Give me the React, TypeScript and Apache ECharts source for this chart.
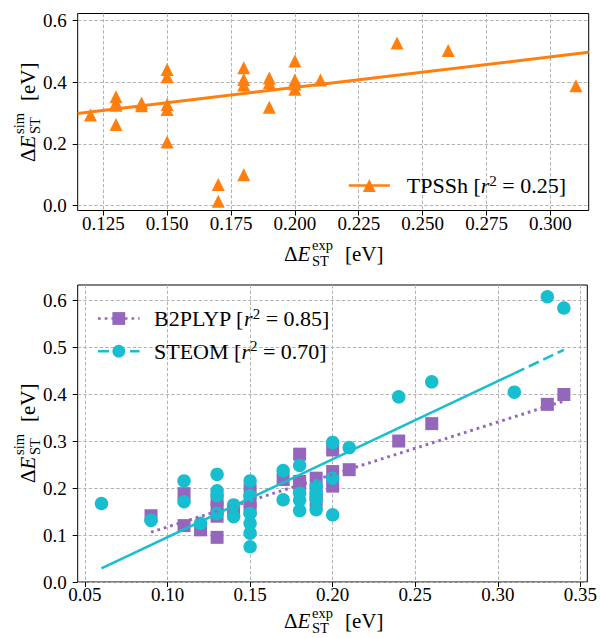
import React, { useEffect, useRef } from "react";
import * as echarts from "echarts";

const FONT = "'Liberation Serif', 'Times New Roman', serif";
const ORANGE = "#ff7f0e";
const PURPLE = "#9467bd";
const CYAN = "#17becf";

// ---- Top panel: TPSSh ----
const tpsshX = [0.12, 0.13, 0.13, 0.13, 0.13, 0.14, 0.14, 0.15, 0.15, 0.15, 0.15, 0.15, 0.17, 0.17, 0.18, 0.18, 0.18, 0.18, 0.19, 0.19, 0.19, 0.2, 0.2, 0.2, 0.2, 0.21, 0.24, 0.26, 0.31];
const tpsshY = [0.294, 0.353, 0.333, 0.325, 0.263, 0.333, 0.324, 0.441, 0.418, 0.328, 0.312, 0.206, 0.068, 0.014, 0.447, 0.409, 0.391, 0.1, 0.414, 0.398, 0.319, 0.469, 0.407, 0.394, 0.377, 0.407, 0.527, 0.503, 0.389];
const tpsshFitX = [0.115, 0.315];
const tpsshFitY = [0.299, 0.497];

// ---- Bottom panel: B2PLYP ----
const b2plypX = [0.09, 0.11, 0.11, 0.12, 0.13, 0.13, 0.13, 0.13, 0.14, 0.15, 0.15, 0.15, 0.17, 0.18, 0.18, 0.18, 0.19, 0.19, 0.19, 0.2, 0.2, 0.2, 0.21, 0.24, 0.26, 0.33, 0.34];
const b2plypY = [0.141, 0.188, 0.12, 0.111, 0.175, 0.158, 0.14, 0.095, 0.153, 0.195, 0.172, 0.155, 0.218, 0.272, 0.214, 0.205, 0.221, 0.19, 0.172, 0.281, 0.235, 0.204, 0.239, 0.3, 0.337, 0.378, 0.399];
const b2plypFitX = [0.09, 0.34];
const b2plypFitY = [0.106, 0.385];

// ---- Bottom panel: STEOM ----
const steomX = [0.06, 0.09, 0.11, 0.11, 0.12, 0.13, 0.13, 0.13, 0.13, 0.14, 0.14, 0.15, 0.15, 0.15, 0.15, 0.15, 0.15, 0.17, 0.17, 0.18, 0.18, 0.18, 0.18, 0.19, 0.19, 0.19, 0.19, 0.2, 0.2, 0.2, 0.21, 0.24, 0.26, 0.31, 0.33, 0.34];
const steomY = [0.167, 0.131, 0.215, 0.171, 0.125, 0.229, 0.194, 0.184, 0.146, 0.164, 0.139, 0.215, 0.184, 0.146, 0.125, 0.104, 0.075, 0.237, 0.175, 0.248, 0.189, 0.174, 0.152, 0.205, 0.19, 0.176, 0.154, 0.297, 0.221, 0.143, 0.286, 0.394, 0.426, 0.404, 0.607, 0.583];
const steomFitSolidX = [0.06, 0.31];
const steomFitSolidY = [0.029, 0.444];
const steomFitDashX = [0.31, 0.34];
const steomFitDashY = [0.444, 0.494];

// ---- Ticks ----
const topXTicks = [0.125, 0.15, 0.175, 0.2, 0.225, 0.25, 0.275, 0.3];
const topYTicks = [0, 0.2, 0.4, 0.6];
const botXTicks = [0.05, 0.1, 0.15, 0.2, 0.25, 0.3, 0.35];
const botYTicks = [0, 0.1, 0.2, 0.3, 0.4, 0.5, 0.6];

const pairs = (xs: number[], ys: number[]) => xs.map((x, i) => [x, ys[i]]);

function axis(ticks: number[], digits: number, min: number, max: number, gridIndex: number, isY: boolean) {
  return {
    type: "value",
    gridIndex,
    min,
    max,
    axisLine: { show: false, onZero: false },
    axisTick: {
      show: true,
      inside: false,
      length: 5,
      lineStyle: { color: "#000", width: 1 },
      customValues: ticks,
    },
    axisLabel: {
      customValues: ticks,
      formatter: (v: number) => v.toFixed(digits),
      fontFamily: FONT,
      fontSize: 19,
      color: "#000",
      margin: isY ? 11 : 3,
      showMinLabel: true,
      showMaxLabel: true,
    },
    splitLine: {
      show: true,
      lineStyle: { color: "#b4b4b4", type: [3.5, 2], width: 1 },
    },
  };
}

function title(sup: string, x: number, y: number, rotation: number) {
  const main = 21;
  const small = 14.5;
  const t = (s: string, lx: number, ly: number, size: number, italic = false) => ({
    type: "text",
    x: lx,
    y: ly,
    style: {
      text: s,
      fontFamily: FONT,
      fontSize: size,
      fontStyle: italic ? "italic" : "normal",
      fill: "#000",
      textAlign: "left",
      verticalAlign: "middle",
    },
  });
  return {
    type: "group",
    x,
    y,
    rotation,
    silent: true,
    children: [
      t("Δ", 0, -7.1, main),
      t("E", 13.5, -7.1, main, true),
      t(sup, 28, -15.8, small),
      t("ST", 28, -0.5, small),
      t("[eV]", 61, -7.1, main),
    ],
  };
}

function legend(name: string, label: string, left: number, top: number, width: number, gap: number) {
  return {
    data: [name],
    left,
    top,
    orient: "vertical",
    itemWidth: width,
    itemHeight: 16,
    selectedMode: false,
    padding: 0,
    lineStyle: { width: 2.6 },
    formatter: () => `{g| }{a|${name} [}{i|r}{s|2}{a| = ${label}]}`,
    textStyle: {
      fontFamily: FONT,
      fontSize: 22,
      color: "#000",
      rich: {
        g: { width: gap },
        a: { fontFamily: FONT, fontSize: 22, color: "#000" },
        i: { fontFamily: FONT, fontSize: 22, fontStyle: "italic", color: "#000" },
        s: { fontFamily: FONT, fontSize: 15, color: "#000", padding: [0, 0, 10, 0] },
      },
    },
  };
}

export default function App() {
  const ref = useRef<HTMLDivElement>(null);
  useEffect(() => {
    if (!ref.current) return;
    const chart = echarts.init(ref.current, undefined, { renderer: "svg" });
    const gridStyle = { show: true, borderColor: "#000", borderWidth: 1, backgroundColor: "transparent", containLabel: false };
    chart.setOption({
      animation: false,
      backgroundColor: "#fff",
      grid: [
        { ...gridStyle, left: 77.7, top: 13.5, width: 511, height: 197 },
        { ...gridStyle, left: 77.7, top: 285, width: 510.7, height: 297 },
      ],
      xAxis: [
        axis(topXTicks, 3, 0.115, 0.315, 0, false),
        axis(botXTicks, 2, 0.0456, 0.3542, 1, false),
      ],
      yAxis: [
        axis(topYTicks, 1, -0.016, 0.623, 0, true),
        axis(botYTicks, 1, 0, 0.632, 1, true),
      ],
      legend: [
        legend("TPSSh", "0.25", 347.5, 173, 41, 12),
        legend("B2PLYP", "0.85", 96.7, 306, 41.6, 9.4),
        legend("STEOM", "0.70", 96.7, 338.7, 41.6, 9.4),
      ],
      series: [
        {
          name: "TPSSh points",
          type: "scatter",
          xAxisIndex: 0,
          yAxisIndex: 0,
          data: pairs(tpsshX, tpsshY),
          symbol: "triangle",
          symbolSize: 13,
          itemStyle: { color: ORANGE, opacity: 1 },
          silent: true,
        },
        {
          name: "TPSSh",
          type: "line",
          xAxisIndex: 0,
          yAxisIndex: 0,
          data: pairs(tpsshFitX, tpsshFitY),
          symbol: "triangle",
          symbolSize: 13,
          showSymbol: false,
          color: ORANGE,
          itemStyle: { color: ORANGE, opacity: 1 },
          lineStyle: { color: ORANGE, width: 3 },
          silent: true,
        },
        {
          name: "B2PLYP points",
          type: "scatter",
          xAxisIndex: 1,
          yAxisIndex: 1,
          data: pairs(b2plypX, b2plypY),
          symbol: "rect",
          symbolSize: 13,
          itemStyle: { color: PURPLE, opacity: 1 },
          silent: true,
        },
        {
          name: "B2PLYP",
          type: "line",
          xAxisIndex: 1,
          yAxisIndex: 1,
          data: pairs(b2plypFitX, b2plypFitY),
          symbol: "rect",
          symbolSize: 13,
          showSymbol: false,
          color: PURPLE,
          itemStyle: { color: PURPLE, opacity: 1 },
          lineStyle: { color: PURPLE, width: 3, type: [2.7, 4] },
          silent: true,
        },
        {
          name: "STEOM points",
          type: "scatter",
          xAxisIndex: 1,
          yAxisIndex: 1,
          data: pairs(steomX, steomY),
          symbol: "circle",
          symbolSize: 13.5,
          itemStyle: { color: CYAN, opacity: 1 },
          silent: true,
        },
        {
          name: "STEOM fit",
          type: "line",
          xAxisIndex: 1,
          yAxisIndex: 1,
          data: pairs(steomFitSolidX, steomFitSolidY),
          showSymbol: false,
          color: CYAN,
          lineStyle: { color: CYAN, width: 2.6 },
          silent: true,
        },
        {
          name: "STEOM",
          type: "line",
          xAxisIndex: 1,
          yAxisIndex: 1,
          data: pairs(steomFitDashX, steomFitDashY),
          symbol: "circle",
          symbolSize: 13,
          showSymbol: false,
          color: CYAN,
          itemStyle: { color: CYAN, opacity: 1 },
          lineStyle: { color: CYAN, width: 2.6, type: [11, 5] },
          silent: true,
        },
      ],
      graphic: [
        title("exp", 284, 261, 0),
        title("exp", 284, 628.5, 0),
        title("sim", 35, 162, Math.PI / 2),
        title("sim", 35, 483, Math.PI / 2),
      ],
    });
    return () => chart.dispose();
  }, []);
  return (
    <div
      ref={ref}
      style={{ position: "absolute", left: 0, top: 0, width: 600, height: 638, background: "#fff" }}
    />
  );
}
